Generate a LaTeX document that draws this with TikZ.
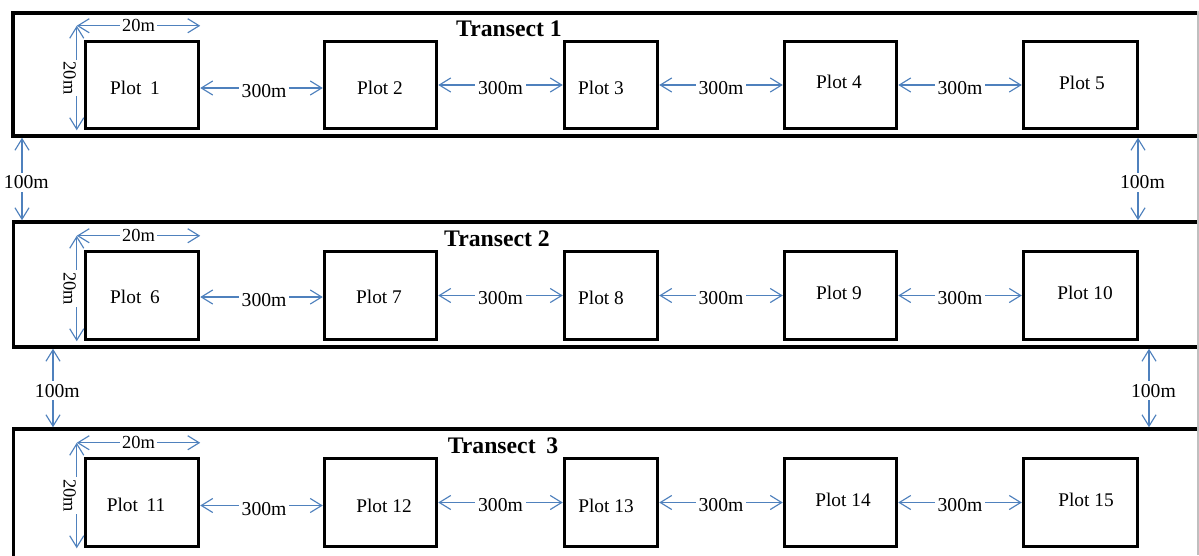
\documentclass[tikz,border=0pt]{standalone}
\usepackage{fontspec}
\setmainfont{Liberation Serif}
\usetikzlibrary{arrows.meta,calc}
\definecolor{dimblue}{HTML}{4F81BD}
\begin{document}
\begin{tikzpicture}[x=0.02cm,y=-0.02cm,
  transect/.style={draw=black,line width=2pt,minimum width=24.34cm,inner sep=0pt},
  plotbox/.style={draw=black,line width=2pt,inner sep=0pt},
  plottxt/.style={inner sep=0pt,font=\fontsize{11}{13}\selectfont},
  barb/.tip={Straight Barb[length=6.5pt,width=8pt]},
  dim/.style={draw=dimblue,line width=0.65pt,barb-barb},
  dimlbl/.style={fill=white,inner sep=1.5pt,text=black,font=\fontsize{11.2}{13}\selectfont},
  smlbl/.style={fill=white,inner sep=1pt,text=black,font=\fontsize{10.5}{12}\selectfont},
  ttl/.style={inner sep=0pt,font=\fontsize{13.5}{16}\selectfont\bfseries}]
\clip (0,0) rectangle (1199,555);
\fill[white] (0,0) rectangle (1199,555);

% transects
\node[transect,minimum height=2.46cm] (t1) at (621.5,74.5) {};
\node[transect,minimum height=2.50cm] (t2) at (622,284.5) {};
\node[transect,minimum height=3.42cm] (t3) at (622,514.5) {};
\draw[black!25,line width=0.6pt] (1198,11) -- (1198,555);

\node[ttl] (h1) at (509,29) {Transect 1};
\node[ttl] (h2) at (497,239) {Transect 2};
\node[ttl] (h3) at (503,446) {Transect\hspace{0.45em}3};

% plots row 1
\node[plotbox,minimum width=2.26cm,minimum height=1.74cm] (p1) at (142,85) {};
\node[plotbox,minimum width=2.24cm,minimum height=1.74cm] (p2) at (380.5,85) {};
\node[plotbox,minimum width=1.86cm,minimum height=1.74cm] (p3) at (611,85) {};
\node[plotbox,minimum width=2.24cm,minimum height=1.74cm] (p4) at (840.5,85) {};
\node[plotbox,minimum width=2.28cm,minimum height=1.74cm] (p5) at (1080.5,85) {};
% plots row 2
\node[plotbox,minimum width=2.26cm,minimum height=1.76cm] (p6) at (142,295.5) {};
\node[plotbox,minimum width=2.24cm,minimum height=1.76cm] (p7) at (380.5,295.5) {};
\node[plotbox,minimum width=1.86cm,minimum height=1.76cm] (p8) at (611,295.5) {};
\node[plotbox,minimum width=2.24cm,minimum height=1.76cm] (p9) at (840.5,295.5) {};
\node[plotbox,minimum width=2.28cm,minimum height=1.76cm] (p10) at (1080.5,295.5) {};
% plots row 3
\node[plotbox,minimum width=2.26cm,minimum height=1.76cm] (p11) at (142,502.5) {};
\node[plotbox,minimum width=2.24cm,minimum height=1.76cm] (p12) at (380.5,502.5) {};
\node[plotbox,minimum width=1.86cm,minimum height=1.76cm] (p13) at (611,502.5) {};
\node[plotbox,minimum width=2.24cm,minimum height=1.76cm] (p14) at (840.5,502.5) {};
\node[plotbox,minimum width=2.28cm,minimum height=1.76cm] (p15) at (1080.5,502.5) {};

% plot labels
\node[plottxt] (l1) at (135,88) {Plot\hspace{0.45em}1};
\node[plottxt] (l2) at (380,88) {Plot 2};
\node[plottxt] (l3) at (601,88) {Plot 3};
\node[plottxt] (l4) at (839,82) {Plot 4};
\node[plottxt] (l5) at (1082,83) {Plot 5};
\node[plottxt] (l6) at (135,297) {Plot\hspace{0.45em}6};
\node[plottxt] (l7) at (379,297) {Plot 7};
\node[plottxt] (l8) at (601,298) {Plot 8};
\node[plottxt] (l9) at (839,293) {Plot 9};
\node[plottxt] (l10) at (1085,293) {Plot 10};
\node[plottxt] (l11) at (136,505) {Plot\hspace{0.45em}11};
\node[plottxt] (l12) at (384,506) {Plot 12};
\node[plottxt] (l13) at (606,506) {Plot 13};
\node[plottxt] (l14) at (843,500) {Plot 14};
\node[plottxt] (l15) at (1086,500) {Plot 15};

% 20m dimensions
\foreach \p in {p1,p6,p11}{
  \coordinate (c\p) at ($(\p.north west)+(-7,-14)$);
  \draw[dim] (c\p) -- node[smlbl,midway]{20m} (c\p -| \p.east);
  \draw[dim] (c\p) -- node[smlbl,midway,xshift=-4pt,rotate=-90]{20m} (c\p |- \p.south);
}

% 300m dimensions
\draw[dim] ($(p1.east)+(0,3)$) -- node[dimlbl,midway,xshift=1.5pt,yshift=-2pt]{300m} ($(p2.west)+(0,3)$);
\draw[dim] (p2.east) -- node[dimlbl,midway,yshift=-1.5pt]{300m} (p3.west);
\draw[dim] (p3.east) -- node[dimlbl,midway,yshift=-1.5pt]{300m} (p4.west);
\draw[dim] (p4.east) -- node[dimlbl,midway,yshift=-1.5pt]{300m} (p5.west);
\draw[dim] ($(p6.east)+(0,1.5)$) -- node[dimlbl,midway,xshift=1.5pt,yshift=-2pt]{300m} ($(p7.west)+(0,1.5)$);
\draw[dim] (p7.east) -- node[dimlbl,midway,yshift=-1.5pt]{300m} (p8.west);
\draw[dim] (p8.east) -- node[dimlbl,midway,yshift=-1.5pt]{300m} (p9.west);
\draw[dim] (p9.east) -- node[dimlbl,midway,yshift=-1.5pt]{300m} (p10.west);
\draw[dim] ($(p11.east)+(0,3)$) -- node[dimlbl,midway,xshift=1.5pt,yshift=-2pt]{300m} ($(p12.west)+(0,3)$);
\draw[dim] (p12.east) -- node[dimlbl,midway,yshift=-1.5pt]{300m} (p13.west);
\draw[dim] (p13.east) -- node[dimlbl,midway,yshift=-1.5pt]{300m} (p14.west);
\draw[dim] (p14.east) -- node[dimlbl,midway,yshift=-1.5pt]{300m} (p15.west);

% 100m dimensions
\coordinate (a1) at (22,0);
\coordinate (a2) at (1138,0);
\coordinate (a3) at (53,0);
\coordinate (a4) at (1149,0);
\draw[dim] (t1.south -| a1) -- node[dimlbl,midway,xshift=2.5pt,yshift=-2pt]{100m} (t2.north -| a1);
\draw[dim] (t1.south -| a2) -- node[dimlbl,midway,xshift=2.5pt,yshift=-2pt]{100m} (t2.north -| a2);
\draw[dim] (t2.south -| a3) -- node[dimlbl,midway,xshift=2.5pt,yshift=-1.5pt]{100m} (t3.north -| a3);
\draw[dim] (t2.south -| a4) -- node[dimlbl,midway,xshift=2.5pt,yshift=-1.5pt]{100m} (t3.north -| a4);
\end{tikzpicture}
\end{document}
